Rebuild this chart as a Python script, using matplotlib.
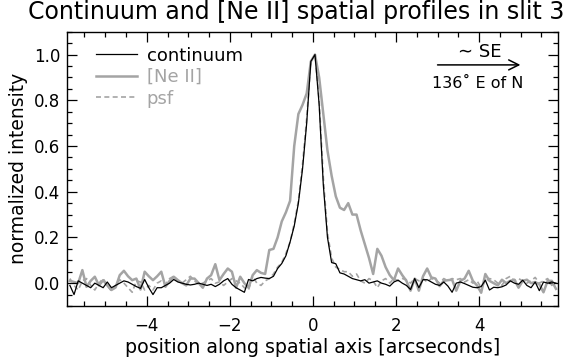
import numpy as np
import matplotlib
matplotlib.use("Agg")
import matplotlib.pyplot as plt
from matplotlib.ticker import MultipleLocator

# position along slit [arcsec]
x_start, x_step, n_pts = -5.85, 0.1, 118
position = np.round(x_start + x_step * np.arange(n_pts), 2)

continuum = [
    -0.01, -0.05, 0.01, 0.0, -0.01, -0.02, 0.0, -0.01, -0.02, 0.005,
    -0.02, -0.01, 0.0, 0.01, 0.005, -0.005, -0.015, -0.023, 0.016, -0.02,
    -0.05, -0.02, -0.02, -0.01, 0.0, 0.016, 0.005, 0.0, -0.005, -0.008,
    -0.005, 0.0, -0.005, -0.01, -0.005, -0.015, -0.005, 0.01, 0.02, -0.005,
    -0.02, -0.03, -0.04, 0.016, 0.01, 0.02, 0.025, 0.022, 0.02, 0.03,
    0.064, 0.086, 0.12, 0.18, 0.25, 0.35, 0.50, 0.70, 0.97, 1.0,
    0.78, 0.43, 0.20, 0.09, 0.085, 0.045, 0.04, 0.03, 0.02, 0.015,
    0.01, 0.015, 0.0, 0.005, 0.01, 0.0, -0.005, -0.013, 0.005, 0.013,
    0.0, -0.01, -0.028, 0.02, -0.02, 0.015, 0.015, 0.005, -0.005, -0.01,
    0.005, -0.013, -0.04, 0.0, 0.005, -0.002, -0.01, -0.018, -0.02, -0.015,
    0.013, -0.03, -0.018, -0.02, -0.016, -0.008, 0.01, 0.0, -0.005, 0.013,
    -0.01, -0.02, 0.005, -0.033, 0.005, 0.0, 0.005, 0.0,
]

neii = [
    0.01, 0.005, 0.0, 0.057, -0.016, 0.01, 0.028, -0.01, 0.013, -0.01,
    -0.03, -0.019, 0.035, 0.054, 0.03, 0.013, 0.02, -0.028, 0.05, 0.03,
    0.013, 0.03, 0.05, -0.016, 0.01, 0.028, 0.013, 0.0, -0.01, 0.02,
    0.02, 0.0, -0.02, 0.02, 0.035, 0.083, 0.013, 0.04, 0.064, 0.05,
    -0.02, 0.028, 0.0, -0.02, 0.035, 0.057, 0.045, 0.04, 0.145, 0.15,
    0.20, 0.27, 0.31, 0.36, 0.60, 0.74, 0.78, 0.83, 0.97, 1.0,
    0.90, 0.74, 0.58, 0.47, 0.38, 0.33, 0.32, 0.35, 0.30, 0.30,
    0.23, 0.17, 0.11, 0.04, 0.15, 0.12, 0.07, 0.035, 0.013, 0.064,
    0.035, 0.01, -0.033, 0.02, -0.033, 0.03, 0.064, 0.025, 0.02, -0.013,
    0.01, 0.013, 0.015, -0.033, 0.01, 0.02, 0.054, 0.01, -0.01, -0.042,
    0.04, 0.01, 0.0, -0.01, 0.015, 0.0, 0.01, 0.015, -0.02, 0.01,
    0.015, 0.0, 0.005, -0.005, -0.04, 0.01, 0.01, -0.025,
]

psf = [
    0.02, -0.01, -0.03, 0.01, 0.02, -0.01, -0.03, 0.0, 0.02, -0.01,
    -0.035, -0.01, 0.015, 0.0, -0.02, -0.04, 0.01, 0.005, -0.03, -0.01,
    -0.03, 0.0, 0.01, -0.005, 0.02, 0.03, 0.01, 0.0, 0.015, 0.03,
    0.01, -0.005, 0.0, 0.01, 0.02, 0.0, 0.005, -0.01, 0.005, 0.02,
    0.01, 0.0, -0.02, -0.03, 0.03, 0.0, -0.01, 0.01, 0.02, 0.04,
    0.07, 0.09, 0.13, 0.18, 0.26, 0.36, 0.52, 0.72, 0.97, 1.0,
    0.80, 0.46, 0.22, 0.11, 0.07, 0.06, 0.05, 0.05, 0.03, 0.04,
    0.01, 0.0, 0.02, 0.01, -0.02, 0.01, 0.02, 0.0, 0.02, 0.01,
    0.02, 0.015, 0.0, 0.02, 0.01, 0.02, 0.005, 0.02, 0.015, 0.0,
    0.02, 0.01, 0.02, 0.015, 0.02, 0.005, 0.015, 0.0, 0.01, -0.02,
    0.01, 0.02, 0.015, 0.0, -0.01, 0.02, 0.03, 0.01, 0.02, 0.01,
    0.0, 0.01, 0.025, 0.0, 0.01, 0.02, -0.01, 0.01,
]

series_labels = ["continuum", "[Ne II]", "psf"]
x_ticks = [-4, -2, 0, 2, 4]
y_ticks = [0.0, 0.2, 0.4, 0.6, 0.8, 1.0]

GRAY = "#a4a4a4"

plt.rcParams["font.family"] = ["DejaVu Sans"]
fig = plt.figure(figsize=(5.76, 3.62), dpi=100)
ax = fig.add_axes([0.1163, 0.1547, 0.8525, 0.7577])

ax.plot(position, psf, color=GRAY, lw=1.2, ls=(0, (3, 2)), label=series_labels[2], zorder=2)
ax.plot(position, neii, color=GRAY, lw=1.8, label=series_labels[1], zorder=1)
ax.plot(position, continuum, color="black", lw=0.9, label=series_labels[0], zorder=3)

ax.set_xlim(-5.92, 5.9)
ax.set_ylim(-0.1, 1.1)
ax.set_xticks(x_ticks)
ax.set_xticklabels(["\u22124", "\u22122", "0", "2", "4"])
ax.set_yticks(y_ticks)
ax.set_yticklabels([f"{v:.1f}" for v in y_ticks])
ax.xaxis.set_minor_locator(MultipleLocator(0.5))
ax.yaxis.set_minor_locator(MultipleLocator(0.05))
ax.tick_params(which="both", direction="in", top=True, right=True, width=0.9, labelsize=12)
ax.tick_params(which="major", length=7)
ax.tick_params(which="minor", length=3.5)
ax.tick_params(axis="x", pad=8)
ax.tick_params(axis="y", pad=5)
for s in ax.spines.values():
    s.set_linewidth(1.0)

ax.set_xlabel("position along spatial axis [arcseconds]", fontsize=13.7, labelpad=2)
ax.set_ylabel("normalized intensity", fontsize=13.5, labelpad=4)
fig.suptitle("Continuum and [Ne II] spatial profiles in slit 3", fontsize=17, x=0.515, y=1.0, va="top")

handles, labels = ax.get_legend_handles_labels()
order = [2, 1, 0]
leg = ax.legend([handles[i] for i in order], [labels[i] for i in order], loc="upper left",
                bbox_to_anchor=(0.059, 0.946), frameon=False, fontsize=13,
                handlelength=2.3, handletextpad=0.5, labelspacing=0.2,
                borderaxespad=0.0, borderpad=0.0)
for t, c in zip(leg.get_texts(), ["black", GRAY, GRAY]):
    t.set_color(c)

ax.annotate("", xy=(0.929, 0.879), xytext=(0.749, 0.879), xycoords="axes fraction",
            arrowprops=dict(arrowstyle="->", color="black", lw=1.1, mutation_scale=18))
ax.text(0.841, 0.926, "\u223c SE", transform=ax.transAxes, ha="center", va="center", fontsize=13)
ax.text(0.837, 0.813, "136\u02da E of N", transform=ax.transAxes, ha="center", va="center", fontsize=11.5)

fig.savefig("out.png", dpi=100)
